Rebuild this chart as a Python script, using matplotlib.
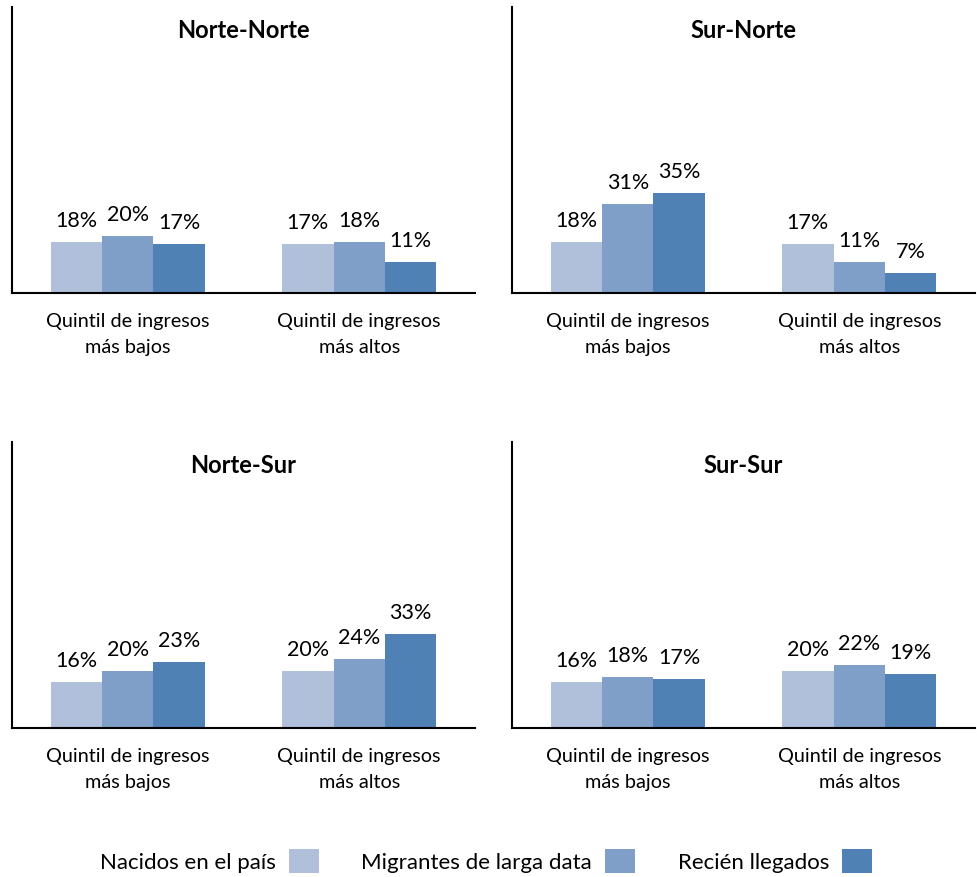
import matplotlib
matplotlib.use("Agg")
import matplotlib.pyplot as plt
from matplotlib.patches import Patch

plt.rcParams['font.family'] = ['Lato', 'DejaVu Sans']

categories = ["Quintil de ingresos\nmás bajos", "Quintil de ingresos\nmás altos"]
series_names = ["Nacidos en el país", "Migrantes de larga data", "Recién llegados"]
colors = ["#B0C0DB", "#7F9FC8", "#4F81B5"]

panels = ["Norte-Norte", "Sur-Norte", "Norte-Sur", "Sur-Sur"]
# values[panel][series] -> [bajos, altos]
norte_norte = [[18, 17], [20, 18], [17, 11]]
sur_norte = [[18, 17], [31, 11], [35, 7]]
norte_sur = [[16, 20], [20, 24], [23, 33]]
sur_sur = [[16, 20], [18, 22], [17, 19]]
panel_values = [norte_norte, sur_norte, norte_sur, sur_sur]

W, H = 977, 878
fig = plt.figure(figsize=(W / 100, H / 100), dpi=100)

boxes = [
    (12, 475, 8, 294),
    (512, 975, 8, 294),
    (12, 475, 443, 729),
    (512, 975, 443, 729),
]

bw = 0.222
for (x0, x1, y0, y1), title, vals in zip(boxes, panels, panel_values):
    ax = fig.add_axes([x0 / W, 1 - y1 / H, (x1 - x0) / W, (y1 - y0) / H])
    for i, (s, c) in enumerate(zip(vals, colors)):
        xs = [k + (i - 1) * bw for k in range(len(categories))]
        bars = ax.bar(xs, s, width=bw, color=c, edgecolor='none')
        for b, v in zip(bars, s):
            ax.text(b.get_x() + b.get_width() / 2, v + 4.2, f"{v}%",
                    ha='center', va='bottom', fontsize=15.5)
    ax.set_xlim(-0.5, 1.5)
    ax.set_ylim(0, 100)
    ax.set_xticks(range(len(categories)))
    ax.set_xticklabels(categories, fontsize=14.3, linespacing=1.6)
    ax.tick_params(axis='x', length=0, pad=14)
    ax.set_yticks([])
    for sp in ['top', 'right']:
        ax.spines[sp].set_visible(False)
    for sp in ['left', 'bottom']:
        ax.spines[sp].set_linewidth(1.5)
        ax.spines[sp].set_color('black')
    ax.text(0.5, 0.92, title, transform=ax.transAxes, ha='center', va='center',
            fontsize=17, fontweight='bold')

handles = [Patch(facecolor=c, edgecolor='none') for c in colors]
fig.legend(handles, series_names, loc='center', bbox_to_anchor=(486 / W, 1 - 862 / H),
           ncol=3, frameon=False, markerfirst=False, fontsize=16,
           handlelength=1.35, handleheight=1.35, columnspacing=1.9, handletextpad=0.6,
           borderpad=0, borderaxespad=0)

fig.savefig("out.png", dpi=100)
